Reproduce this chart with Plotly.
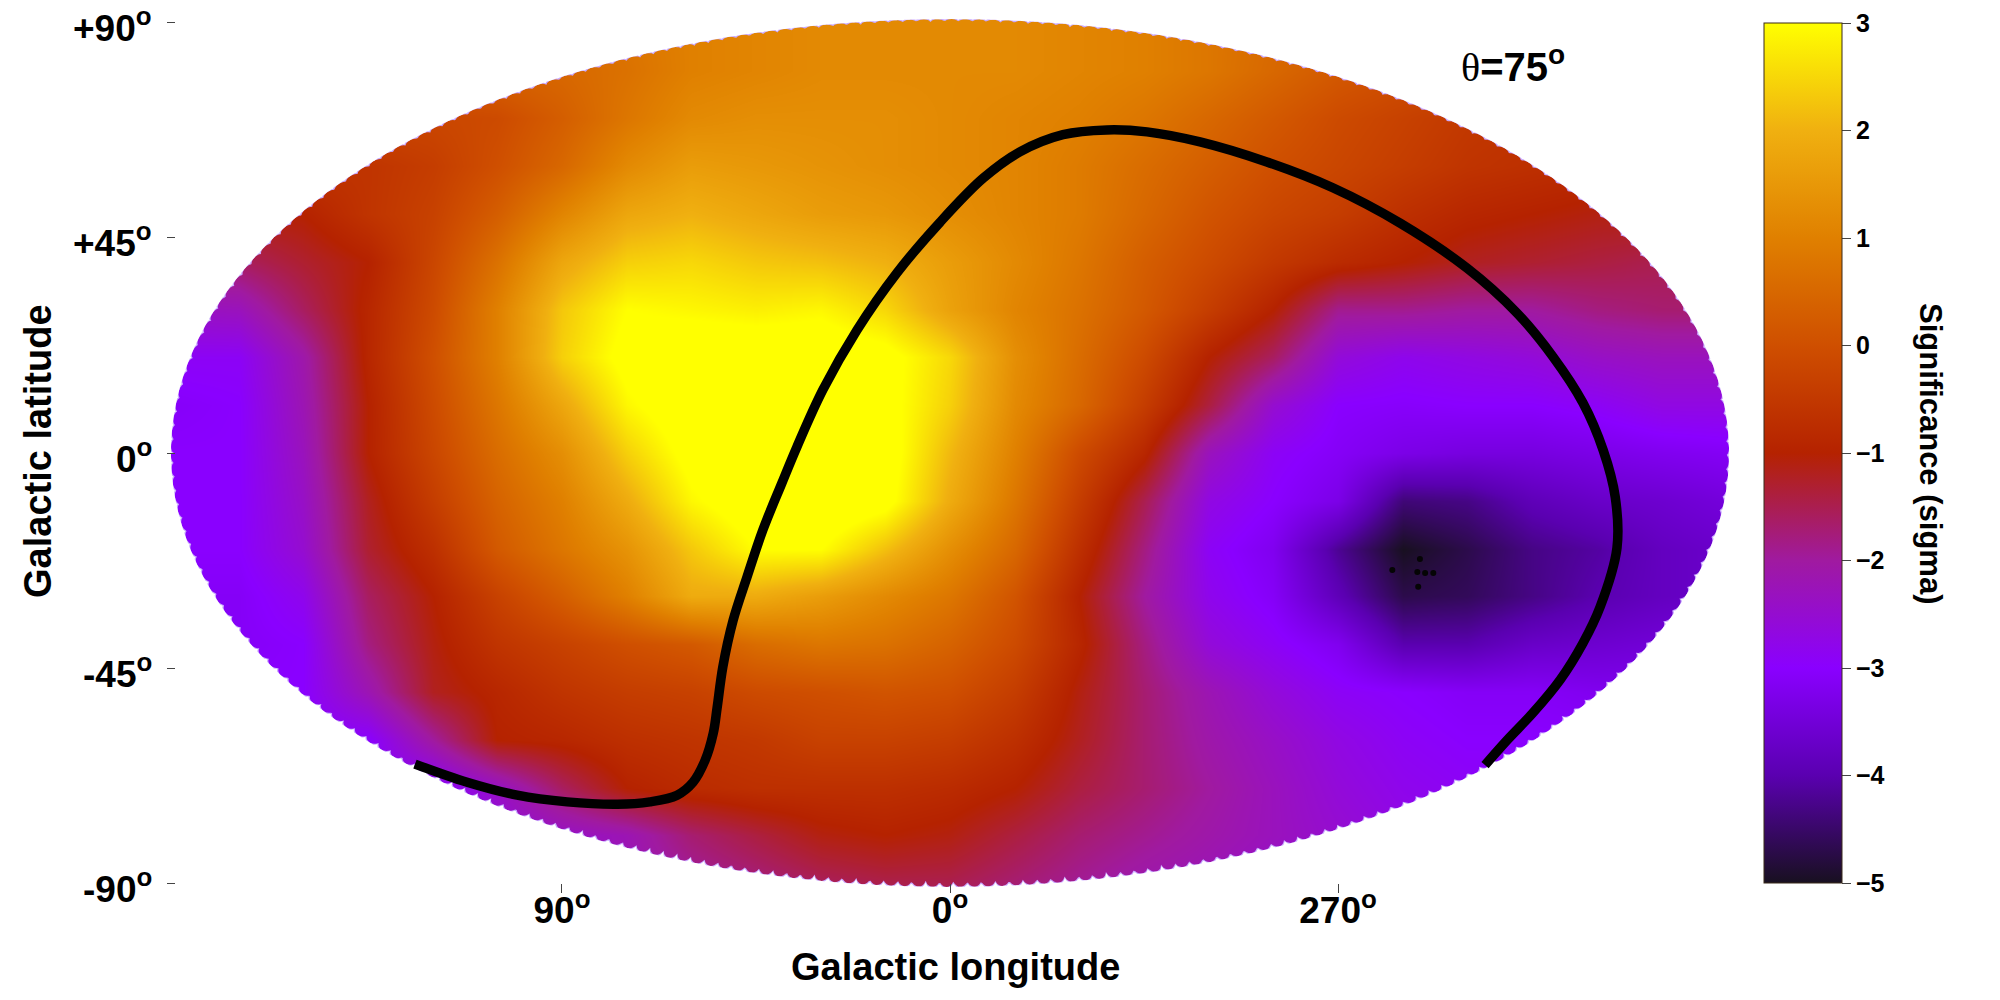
#!/usr/bin/env python3
"""Mapa de significancia en coordenadas galacticas (theta=75)."""
import math
import plotly.graph_objects as go

# Columnas: longitud proyectada (izq. a der.), filas: latitud proyectada
lon_cols = [185, 165, 150, 135, 120, 105, 90, 75, 60, 45, 30, 15, 0,
            -15, -30, -45, -60, -75, -90, -105, -120, -135, -150, -165, -185]
lat_rows = [93, 80, 70, 60, 50, 40, 30, 20, 10, 0, -10, -20, -30, -40, -50, -60, -70, -80, -93]

sig_grid = [
    [0.3, 0.3, 0.3, 0.3, 0.4, 0.5, 0.6, 0.8, 1.0, 1.1, 1.2, 1.2, 1.2, 1.2, 1.1, 1.0, 0.8, 0.6, 0.3, 0.2, 0.2, 0.2, 0.2, 0.2, 0.2],
    [0.2, 0.2, 0.2, 0.2, 0.3, 0.4, 0.5, 0.7, 1.0, 1.1, 1.2, 1.2, 1.2, 1.2, 1.1, 1.0, 0.8, 0.5, 0.2, 0.0, 0.0, 0.0, 0.0, 0.0, 0.0],
    [-0.2, -0.2, -0.2, -0.2, -0.2, -0.1, 0.3, 0.8, 1.2, 1.3, 1.3, 1.3, 1.2, 1.1, 1.0, 0.8, 0.5, 0.2, -0.1, -0.3, -0.5, -0.6, -0.6, -0.6, -0.6],
    [-0.6, -0.6, -0.6, -0.6, -0.4, 0.0, 0.5, 1.2, 1.6, 1.5, 1.4, 1.3, 1.2, 1.1, 0.9, 0.6, 0.3, 0.0, -0.2, -0.4, -0.6, -0.7, -0.8, -0.8, -0.8],
    [-1.1, -1.1, -1.0, -0.6, -0.3, 0.3, 1.1, 1.8, 2.0, 1.8, 1.6, 1.5, 1.3, 1.1, 0.9, 0.5, 0.1, -0.2, -0.4, -0.7, -0.9, -1.0, -1.1, -1.1, -1.1],
    [-1.7, -1.6, -1.3, -1.0, -0.2, 0.7, 1.8, 2.4, 2.5, 2.3, 2.2, 2.0, 1.6, 1.2, 0.8, 0.3, -0.1, -0.5, -0.8, -1.0, -1.2, -1.3, -1.4, -1.5, -1.5],
    [-2.4, -2.3, -1.6, -0.9, -0.1, 1.0, 2.3, 3.0, 2.9, 2.8, 2.9, 2.5, 1.7, 1.1, 0.7, 0.2, -0.4, -1.0, -1.9, -1.9, -2.0, -2.0, -1.8, -1.7, -1.7],
    [-2.9, -2.9, -2.1, -0.9, 0.0, 1.0, 2.4, 3.2, 3.4, 3.4, 3.4, 3.2, 2.5, 1.3, 0.6, -0.1, -1.0, -1.6, -2.6, -2.8, -2.7, -2.6, -2.4, -2.3, -2.3],
    [-3.1, -3.0, -2.2, -1.0, -0.1, 0.8, 1.8, 2.9, 3.4, 3.5, 3.5, 3.2, 2.4, 1.2, 0.5, -0.4, -1.4, -2.5, -3.0, -3.05, -3.0, -3.0, -2.9, -2.7, -2.7],
    [-3.0, -3.0, -2.3, -1.0, -0.2, 0.6, 1.3, 2.4, 3.2, 3.5, 3.5, 3.3, 2.1, 1.0, -0.1, -0.9, -2.3, -2.9, -3.1, -3.3, -3.4, -3.4, -3.3, -3.2, -3.1],
    [-3.0, -3.0, -2.4, -1.2, -0.4, 0.4, 1.0, 1.9, 2.9, 3.4, 3.5, 3.2, 1.9, 0.8, -0.4, -1.5, -2.7, -3.0, -3.3, -4.4, -4.3, -3.9, -3.7, -3.6, -3.4],
    [-3.0, -3.0, -2.5, -1.3, -0.7, 0.2, 0.8, 1.4, 2.3, 3.0, 3.0, 2.2, 1.3, 0.5, -0.7, -1.8, -2.9, -3.2, -4.2, -5.0, -4.7, -4.3, -4.1, -3.8, -3.6],
    [-3.1, -3.1, -2.8, -1.6, -1.0, -0.3, 0.3, 1.0, 1.9, 1.9, 1.6, 1.2, 0.8, 0.1, -1.0, -2.0, -2.8, -3.1, -3.9, -4.7, -4.6, -4.3, -4.0, -3.8, -3.6],
    [-3.1, -3.1, -3.0, -1.8, -1.1, -0.6, -0.3, 0.0, 0.2, 0.6, 0.8, 0.7, 0.4, -0.1, -0.9, -1.8, -2.6, -2.9, -3.2, -4.0, -4.0, -3.7, -3.6, -3.5, -3.4],
    [-3.0, -3.0, -3.0, -2.2, -1.2, -0.9, -0.6, -0.4, -0.3, -0.1, 0.0, 0.1, 0.0, -0.4, -1.1, -1.7, -2.2, -2.6, -2.9, -3.0, -3.1, -3.1, -3.2, -3.2, -3.2],
    [-3.0, -3.0, -3.0, -3.0, -2.0, -1.0, -0.9, -0.7, -0.6, -0.5, -0.3, -0.3, -0.4, -0.7, -1.2, -1.7, -2.1, -2.4, -2.7, -2.9, -3.0, -3.0, -3.0, -3.0, -3.0],
    [-3.0, -3.0, -3.0, -3.0, -3.0, -2.4, -1.6, -1.0, -0.8, -0.7, -0.7, -0.7, -0.8, -1.0, -1.4, -1.7, -2.0, -2.3, -2.6, -2.8, -2.9, -2.9, -2.9, -2.9, -2.9],
    [-2.8, -2.8, -2.8, -2.8, -2.8, -2.6, -2.4, -2.2, -1.7, -1.4, -1.1, -1.0, -1.1, -1.4, -1.7, -1.9, -2.1, -2.3, -2.5, -2.7, -2.8, -2.8, -2.8, -2.8, -2.8],
    [-2.5, -2.5, -2.5, -2.5, -2.5, -2.5, -2.4, -2.3, -2.1, -1.9, -1.7, -1.6, -1.6, -1.8, -2.0, -2.2, -2.3, -2.5, -2.6, -2.7, -2.8, -2.8, -2.8, -2.8, -2.8],
]

# Curva theta=75
curve_lon = [124.1, 112.0, 100.4, 88.8, 77.2, 69.6, 63.3, 59.6, 56.8, 54.9, 54.0, 52.7, 50.3, 47.1, 43.4, 39.0,
             35.5, 29.5, 21.6, 12.3, 2.3, -7.7, -16.2, -26.2, -36.4, -45.7, -58.0, -73.5, -88.8, -104.4,
             -119.9, -131.5, -139.9, -146.8, -151.5, -154.3, -154.7, -150.8, -146.8, -141.5, -135.2, -129.2, -124.1]
curve_lat = [-65.1, -68.9, -71.6, -73.0, -73.5, -73.0, -71.6, -68.9, -64.3, -58.6, -53.2, -44.8, -35.0, -26.0, -16.1, -6.3,
             1.3, 13.2, 25.7, 37.7, 48.3, 57.5, 63.0, 66.6, 67.6, 67.2, 65.1, 60.9, 55.5, 48.1,
             38.7, 29.3, 20.1, 10.5, 0.6, -9.2, -19.9, -32.2, -39.8, -47.5, -54.4, -60.1, -65.3]

# Pixeles saturados en el minimo
min_lon = [-109.0, -102.6, -108.4, -110.2, -112.1, -108.6]
min_lat = [-22.2, -24.5, -24.9, -25.1, -25.1, -28.0]

lat_ticks = [90, 45, 0, -45, -90]
lat_labels = ["+90<sup>o</sup>", "+45<sup>o</sup>", "0<sup>o</sup>", "-45<sup>o</sup>", "-90<sup>o</sup>"]
lon_ticks = [90, 0, -90]
lon_labels = ["90<sup>o</sup>", "0<sup>o</sup>", "270<sup>o</sup>"]
cbar_ticks = [3, 2, 1, 0, -1, -2, -3, -4, -5]

palette = [
    [0.0, "#181020"], [0.125, "#5a00b0"], [0.25, "#8a00ff"], [0.375, "#a01aa0"],
    [0.5, "#b52200"], [0.625, "#cf4f00"], [0.75, "#e08000"], [0.875, "#f0b010"], [1.0, "#ffff00"],
]

FONT = "Liberation Sans"
X_LIM = 184.4
Y_LIM = 92.7
RIM_X = 180.7
RIM_Y = 90.8
PX_X = 4.311  # px por grado
PX_Y = 4.778
# la pagina deja 8 px de margen en el body, todo va corrido
X_DOMAIN = [0.0735, 0.8685]
Y_DOMAIN = [0.112, 0.998]


def rim_path(band=0.0, step=14.0):
    # hueco eliptico festoneado como los pixeles del mapa, mas hondo abajo
    pts, s = [], 0.0
    n = 3000
    for i in range(n):
        t = 2 * math.pi * i / n
        depth = 3.0 + 3.5 * max(0.0, -math.sin(t))
        d = max(0.0, depth * (1 - abs(math.sin(math.pi * s / step)) ** 0.5) - band)
        x = (RIM_X - d / PX_X) * math.cos(t)
        y = (RIM_Y - d / PX_Y) * math.sin(t)
        pts.append((x, y))
        s += math.hypot(RIM_X * PX_X * math.sin(t), RIM_Y * PX_Y * math.cos(t)) * 2 * math.pi / n
    inner = "M" + " L".join(f"{x:.2f},{y:.2f}" for x, y in pts) + " Z"
    outer = f"M{X_LIM},{Y_LIM} L{-X_LIM},{Y_LIM} L{-X_LIM},{-Y_LIM} L{X_LIM},{-Y_LIM} Z"
    return outer + " " + inner


fig = go.Figure()
fig.add_trace(go.Heatmap(
    x=lon_cols, y=lat_rows, z=sig_grid, zmin=-5, zmax=3, zsmooth="best",
    colorscale=palette, hoverinfo="skip", xaxis="x", yaxis="y",
    colorbar=dict(
        x=0.878, xanchor="left", xpad=0, y=0.985, yanchor="top", ypad=0,
        thickness=78, thicknessmode="pixels", len=860, lenmode="pixels",
        tickvals=cbar_ticks, ticks="outside", ticklen=9, tickwidth=1, tickcolor="#444444",
        tickfont=dict(family=FONT, size=25, color="black", weight=700),
        outlinewidth=1, outlinecolor="#3a2a1a",
    ),
))
fig.add_trace(go.Scatter(
    x=min_lon, y=min_lat, mode="markers", hoverinfo="skip", showlegend=False, xaxis="x2", yaxis="y2",
    marker=dict(color="#050505", size=6),
))
fig.add_trace(go.Scatter(
    x=curve_lon, y=curve_lat, mode="lines", hoverinfo="skip", showlegend=False, xaxis="x2", yaxis="y2",
    line=dict(color="black", width=9.5, shape="spline", smoothing=1.0),
))

label_font = dict(family=FONT, size=37, color="black", weight=700)
title_font = dict(family=FONT, size=38, color="black", weight=700)

annotations = [
    dict(text="Galactic longitude", x=0.4735, y=0.041, xref="paper", yref="paper", showarrow=False,
         xanchor="center", yanchor="middle", font=title_font),
    dict(text="Galactic latitude", x=0.015, y=0.557, xref="paper", yref="paper", showarrow=False, textangle=-90,
         xanchor="center", yanchor="middle", font=title_font),
    dict(text="Significance (sigma)", x=0.961, y=0.555, xref="paper", yref="paper", showarrow=False, textangle=90,
         xanchor="center", yanchor="middle", font=dict(family=FONT, size=31, color="black", weight=700)),
    dict(text="<span style=\"font-family:'Liberation Serif';font-weight:normal\">θ</span>=75<sup>o</sup>",
         x=0.7525, y=0.944, xref="paper", yref="paper", showarrow=False,
         xanchor="center", yanchor="middle", font=dict(family=FONT, size=40, color="black", weight=700)),
]
# etiquetas de latitud como anotaciones: la de +90 queda pegada al borde de la pagina
for val, txt in zip(lat_ticks, lat_labels):
    annotations.append(dict(text=txt, x=0.0730, y=val, xref="paper", yref="y2", showarrow=False,
                            xanchor="right", yanchor="middle", yshift=-3, font=label_font))

fig.update_layout(
    width=2000, height=1000, margin=dict(l=0, r=0, t=0, b=0, autoexpand=False),
    paper_bgcolor="white", plot_bgcolor="rgba(0,0,0,0)", showlegend=False,
    font=dict(family=FONT, color="black"),
    xaxis=dict(domain=X_DOMAIN, range=[X_LIM, -X_LIM], visible=False, anchor="y"),
    yaxis=dict(domain=Y_DOMAIN, range=[-Y_LIM, Y_LIM], visible=False, anchor="x"),
    xaxis2=dict(
        domain=X_DOMAIN, range=[X_LIM, -X_LIM], anchor="free", position=0.125,
        tickmode="array", tickvals=lon_ticks, ticktext=lon_labels, ticks="outside", ticklen=9, tickwidth=1,
        tickcolor="#444444", tickfont=label_font, ticklabelstandoff=-14,
        ticklabeloverflow="allow", showgrid=False, zeroline=False, showline=False,
    ),
    yaxis2=dict(
        domain=Y_DOMAIN, range=[-Y_LIM, Y_LIM], anchor="free", position=0.0835,
        tickmode="array", tickvals=lat_ticks, ticks="outside", ticklen=8, tickwidth=1,
        tickcolor="#444444", showticklabels=False, showgrid=False, zeroline=False, showline=False,
    ),
    shapes=[
        dict(type="path", path=rim_path(), xref="x2", yref="y2", fillcolor="#c9a8ff",
             fillrule="evenodd", line=dict(width=0), layer="between"),
        dict(type="path", path=rim_path(band=1.5), xref="x2", yref="y2", fillcolor="white",
             fillrule="evenodd", line=dict(width=0), layer="between"),
    ],
    annotations=annotations,
)

fig.write_html("out.html")
